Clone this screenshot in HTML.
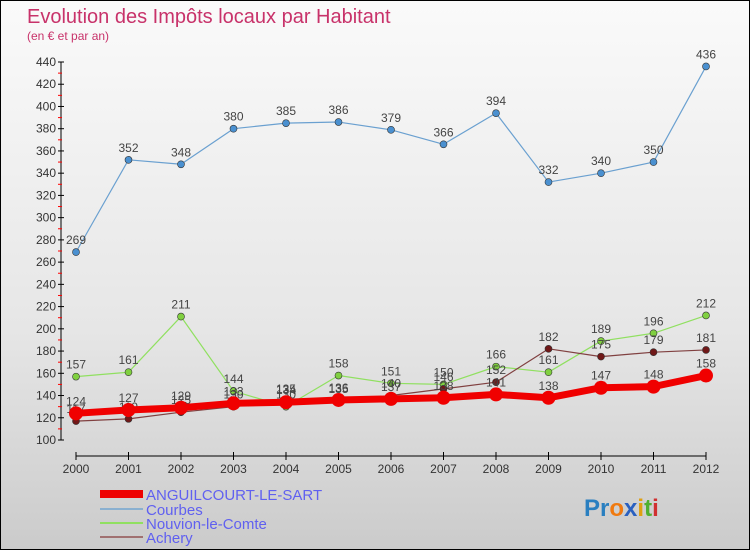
<!DOCTYPE html>
<html><head><meta charset="utf-8"><style>
body{margin:0;}
#wrap{width:748px;height:548px;border:1px solid #000;background:linear-gradient(#fafafa,#e6e6e6 60%,#cbcbcb);position:relative;font-family:"Liberation Sans",sans-serif;overflow:hidden}
svg text{font-family:"Liberation Sans",sans-serif}
</style></head><body>
<div id="wrap">
<svg id="chart" width="748" height="548">
<text x="26" y="22" font-size="20" fill="#c8326a">Evolution des Impôts locaux par Habitant</text>
<text x="26" y="39" font-size="12" fill="#c8326a">(en € et par an)</text>
<g id="axes"></g><g id="series"></g>
<g>
<rect x="99" y="489" width="43" height="8" fill="#e00"/>
<text x="145" y="499" font-size="15" fill="#6060f0">ANGUILCOURT-LE-SART</text>
<rect x="99" y="507" width="43" height="2" fill="#8ab0d0"/>
<text x="145" y="514" font-size="15" fill="#6060f0">Courbes</text>
<rect x="99" y="521" width="43" height="2" fill="#90e060"/>
<text x="145" y="528" font-size="15" fill="#6060f0">Nouvion-le-Comte</text>
<rect x="99" y="535" width="43" height="2" fill="#a07070"/>
<text x="145" y="542" font-size="15" fill="#6060f0">Achery</text>
</g>
<text x="583" y="515" font-size="24" font-weight="bold"><tspan fill="#2a7fc0">Pr</tspan><tspan fill="#f07a10">o</tspan><tspan fill="#2a60c0">x</tspan><tspan fill="#e0a010">i</tspan><tspan fill="#50b030">t</tspan><tspan fill="#d03030">i</tspan></text>
</svg></div>
<script>
const years=["2000","2001","2002","2003","2004","2005","2006","2007","2008","2009","2010","2011","2012"];
const yTicks=[100,120,140,160,180,200,220,240,260,280,300,320,340,360,380,400,420,440];
const anguilcourt=[124,127,129,133,134,136,137,138,141,138,147,148,158];
const courbes=[269,352,348,380,385,386,379,366,394,332,340,350,436];
const nouvion=[157,161,211,144,130,158,151,150,166,161,189,196,212];
const achery=[117,119,125,130,135,135,140,146,152,182,175,179,181];
const NS="http://www.w3.org/2000/svg";
const x=i=>75+i*52.5;
const y=v=>439-(v-100)*(378/340);
function mk(t,a,p){const e=document.createElementNS(NS,t);for(const k in a)e.setAttribute(k,a[k]);p.appendChild(e);return e;}
const ax=document.getElementById('axes');
const yl=mk('line',{x1:60,y1:y(440),x2:60,y2:y(100),stroke:'#000'},ax);


yTicks.forEach(v=>{
 mk('line',{x1:57,x2:63,y1:y(v),y2:y(v),stroke:'#000'},ax);
 if(v<440)mk('line',{x1:57,x2:61,y1:y(v+10),y2:y(v+10),stroke:'#f00'},ax);
 const t=mk('text',{x:55,y:y(v)+4,'font-size':12,'text-anchor':'end',fill:'#333'},ax);t.textContent=v;
 
 
});
const xl=mk('line',{x1:75,y1:455,x2:705,y2:455,stroke:'#000'},ax);


years.forEach((yr,i)=>{
 mk('line',{x1:x(i),x2:x(i),y1:451,y2:459,stroke:'#000'},ax);
 const t=mk('text',{x:x(i),y:472,'font-size':12,'text-anchor':'middle',fill:'#333'},ax);t.textContent=yr;
 
 
});
const sg=document.getElementById('series');
function draw(vals,name,color,w,r,dot){
 const g=mk('g',{},sg);
 
 
 mk('polyline',{points:vals.map((v,i)=>x(i)+','+y(v)).join(' '),fill:'none',stroke:color,'stroke-width':w,'stroke-linejoin':'round'},g);
 vals.forEach((v,i)=>{
  const c=mk('circle',{cx:x(i),cy:y(v),r:r,fill:dot,stroke:'#333','stroke-width':name=='anguilcourt'?0:0.6},g);
  
  
  const t=mk('text',{x:x(i),y:y(v)-8,'font-size':12,'text-anchor':'middle',fill:'#444'},g);t.textContent=v;
  
  
 });
}
draw(courbes,'courbes','#6aa0d0',1.2,3.5,'#4a90d0');
draw(nouvion,'nouvion','#90e060',1.2,3.5,'#80d040');
draw(achery,'achery','#804040',1.2,3.5,'#701818');
draw(anguilcourt,'anguilcourt','#f00000',7,7,'#f00000');
</script>
</body></html>
